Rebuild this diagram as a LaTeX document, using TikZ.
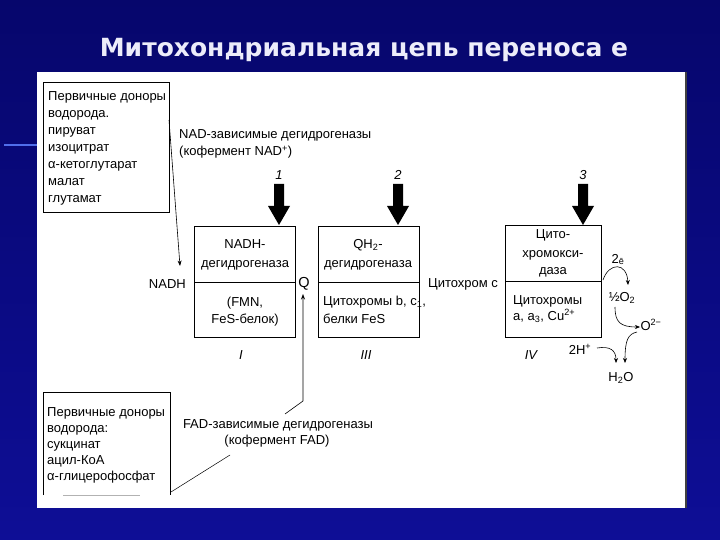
\documentclass[tikz,border=0pt]{standalone}
\usepackage{fontspec}
\setmainfont{Liberation Sans}
\newfontfamily\titlefont{DejaVu Sans}
\usetikzlibrary{arrows.meta}
\definecolor{bgtop}{RGB}{6,6,108}
\definecolor{bgbot}{RGB}{14,14,150}
\definecolor{titlecol}{RGB}{236,236,250}
\definecolor{glow}{RGB}{80,110,235}
\newcommand{\mysub}[1]{\textsubscript{#1}}
\newcommand{\mysup}[1]{\textsuperscript{#1}}
\begin{document}
\begin{tikzpicture}[x=1pt,y=-1pt,
  txt/.style={inner sep=0pt, font=\fontsize{13}{17}\selectfont},
  lbl/.style={txt, anchor=base},
  lblw/.style={txt, anchor=base west},
  roman/.style={inner sep=0pt, anchor=base, font=\fontsize{13}{15}\selectfont\itshape},
  boxline/.style={line width=0.8pt},
  conn/.style={line width=0.6pt, -{Stealth[length=5.5pt,width=4pt]}},
  rxn/.style={line width=0.6pt, -{Stealth[length=5pt,width=4pt]}},
  blockarrow/.style={fill=black}
]
\useasboundingbox (0,0) rectangle (720,540);
% background
\shade[top color=bgtop, bottom color=bgbot] (0,0) rectangle (720,540);
\draw[glow, line width=1.6pt] (4,145) -- (37,145);
% title
\node[inner sep=0pt, anchor=base, text=titlecol, font=\titlefont\bfseries\fontsize{25}{30}\selectfont] (title) at (364,57) {Митохондриальная цепь переноса е};
% panel
\fill[white] (37,72) rectangle (686,508);
\draw[black!75, line width=2pt] (686,72) -- (686,508);

% top-left donor box
\draw[boxline] (43,82) rectangle (169,212);
\node[lblw] (d1) at (48,101) {Первичные доноры};
\node[lblw] (d2) at (48,118) {водорода.};
\node[lblw] (d3) at (48,135) {пируват};
\node[lblw] (d4) at (48,152) {изоцитрат};
\node[lblw] (d5) at (48,169) {α-кетоглутарат};
\node[lblw] (d6) at (48,186) {малат};
\node[lblw] (d7) at (48,203) {глутамат};

% NAD text
\node[lblw] (nad1) at (179,139) {NAD-зависимые дегидрогеназы};
\node[lblw] (nad2) at (179,156) {(кофермент NAD\mysup{+})};

% numbers and block arrows
\foreach \n/\x in {1/279,2/398,3/583}{
  \node[roman] (num\n) at (\x,180) {\n};
  \fill[blockarrow] (\x-5,184) -- (\x+5,184) -- (\x+5,206) -- (\x+11,206) -- (\x,225) -- (\x-11,206) -- (\x-5,206) -- cycle;
}

% complex I
\draw[boxline] (194,226) rectangle (295,337);
\draw[boxline] (194,282) -- (295,282);
\node[lbl] (c1a) at (245,248) {NADH-};
\node[lbl] (c1b) at (245,267) {дегидрогеназа};
\node[lbl] (c1c) at (245,306) {(FMN,};
\node[lbl] (c1d) at (245,323) {FeS-белок)};
\node[roman] (r1) at (241,359) {I};

% complex III
\draw[boxline] (318,226) rectangle (419,337);
\draw[boxline] (318,282) -- (419,282);
\node[lbl] (c3a) at (368,248) {QH\mysub{2}-};
\node[lbl] (c3b) at (368,267) {дегидрогеназа};
\node[lblw] (c3c) at (323,305) {Цитохромы b, c\mysub{1},};
\node[lblw] (c3d) at (323,323) {белки FeS};
\node[roman] (r3) at (366,359) {III};

% complex IV
\draw[boxline] (505,225) rectangle (601,337);
\draw[boxline] (505,281) -- (601,281);
\node[lbl] (c4a) at (553,239) {Цито-};
\node[lbl] (c4b) at (553,257) {хромокси-};
\node[lbl] (c4c) at (553,274) {даза};
\node[lblw] (c4d) at (513,304) {Цитохромы};
\node[lblw] (c4e) at (513,320) {a, a\mysub{3}, Cu\mysup{2+}};
\node[roman] (r4) at (531,359) {IV};

% carriers
\node[txt, anchor=base east] (nadh) at (186,288) {NADH};
\node[inner sep=0pt, anchor=base, font=\fontsize{14.5}{16}\selectfont] (q) at (304,287) {Q};
\node[lblw] (cytc) at (428,287) {Цитохром с};

% oxygen reactions
\node[lbl] (e2) at (618,263) {2\mysub{ē}};
\node[lbl] (o2) at (622,301) {½O\mysub{2}};
\node[lbl] (om) at (651,330) {O\mysup{2−}};
\node[lbl] (hp) at (580,354) {2H\mysup{+}};
\node[lbl] (h2o) at (621,381) {H\mysub{2}O};
\coordinate (e2s) at (603,280);
\coordinate (e2t) at (628,285);
\draw[rxn] (e2s) .. controls (609,262) and (627,262) .. (e2t);
\coordinate (o2s) at (615,307);
\coordinate (o2t) at (640,327);
\draw[rxn] (o2s) .. controls (615,322) and (620,327) .. (o2t);
\coordinate (oms) at (637,332);
\coordinate (omt) at (625,363);
\draw[rxn] (oms) .. controls (628,334) and (625,340) .. (omt);
\coordinate (hps) at (597,348);
\coordinate (hpt) at (616,363);
\draw[rxn] (hps) .. controls (610,346) and (616,350) .. (hpt);

% lower donor box
\draw[boxline] (43,495) -- (43,392) -- (170,392) -- (170,495);
\draw[black!30, line width=0.8pt] (63,495) -- (140,495);
\node[lblw] (f1) at (47,416) {Первичные доноры};
\node[lblw] (f2) at (47,432) {водорода:};
\node[lblw] (f3) at (47,448) {сукцинат};
\node[lblw] (f4) at (47,464) {ацил-КоА};
\node[lblw] (f5) at (47,480) {α-глицерофосфат};

% FAD text
\node[lbl] (fad1) at (278,428) {FAD-зависимые дегидрогеназы};
\node[lbl] (fad2) at (277,444) {(кофермент FAD)};

% connectors
\coordinate (topstart) at (169,120);
\coordinate (nadhtip) at (180,266);
\draw[conn] (topstart) -- (nadhtip);
\coordinate (fadtop) at (285,414);
\coordinate (fadbend) at (303,401);
\coordinate (qtip) at (303,294);
\draw[conn] (fadtop) -- (fadbend) -- (qtip);
\coordinate (lowstart) at (171,492);
\coordinate (fadleft) at (230,455);
\draw[line width=0.5pt] (lowstart) -- (fadleft);
\end{tikzpicture}
\end{document}
